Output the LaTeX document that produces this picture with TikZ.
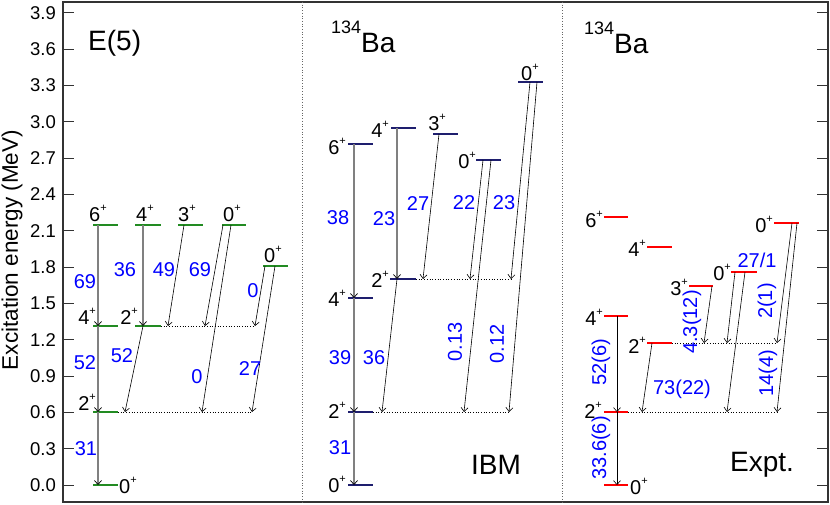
\documentclass[tikz,border=0pt]{standalone}
\usepackage{fontspec}
\setmainfont{Liberation Sans}
\usetikzlibrary{arrows.meta}
\definecolor{lvlgreen}{RGB}{34,139,34}
\definecolor{lvlnavy}{RGB}{30,30,110}
\definecolor{lvlred}{RGB}{255,0,0}
\definecolor{lblblue}{RGB}{0,0,255}
\newcommand\pl{\raisebox{0.5em}{\fontsize{11}{11}\selectfont +}}
\newcommand\isoBa{\raisebox{19pt}{\fontsize{18}{18}\selectfont 134}Ba}
\begin{document}
\begin{tikzpicture}[x=1pt,y=-1pt,
  frame/.style={draw=black!80, line width=1.1pt},
  axtick/.style={draw=black!80, line width=1pt},
  ticklbl/.style={anchor=east, font=\fontsize{18.5}{18.5}\selectfont, inner sep=0pt},
  spin/.style={font=\fontsize{20}{20}\selectfont, inner sep=0pt},
  bluelbl/.style={text=lblblue, font=\fontsize{20}{20}\selectfont, inner sep=0pt},
  ttl/.style={font=\fontsize{28}{28}\selectfont, inner sep=0pt},
  lvlE/.style={draw=lvlgreen, line width=2.2pt},
  lvlI/.style={draw=lvlnavy, line width=2.2pt},
  lvlX/.style={draw=lvlred, line width=2.2pt},
  vtr/.style={draw=black!50, line width=1.3pt, -{Straight Barb[length=4pt,width=7pt,line width=0.7pt,black]}},
  str/.style={draw=black, line width=0.6pt, -{Straight Barb[length=4pt,width=7pt]}},
  feed/.style={draw=black, dotted, line width=0.7pt},
  divider/.style={draw=black!60, dotted, line width=0.7pt}]
\useasboundingbox (0,0) rectangle (830,504);
\fill[white] (0,0) rectangle (830,504);

% frame, dividers, ticks
\draw[frame] (63,2) rectangle (828,502);
\draw[divider] (302,2) -- (302,502);
\draw[divider] (562,2) -- (562,502);
\foreach \k/\lab in {0/0.0,1/0.3,2/0.6,3/0.9,4/1.2,5/1.5,6/1.8,7/2.1,8/2.4,9/2.7,10/3.0,11/3.3,12/3.6,13/3.9}{
  \pgfmathsetmacro\yy{485-36.31*\k}
  \draw[axtick] (63,\yy) -- (74,\yy);
  \draw[axtick] (817,\yy) -- (828,\yy);
  \node[ticklbl] (t\k) at (56,\yy) {\lab};
}
\node[rotate=90, font=\fontsize{22.5}{22.5}\selectfont, inner sep=0pt] (ytitle) at (12,250) {Excitation energy (MeV)};

% ================= E(5) panel =================
\node[ttl, anchor=base west] (ttlE) at (88,50) {E(5)};
\draw[lvlE] (93,485) -- (118,485);
\draw[lvlE] (93,412) -- (118,412);
\draw[lvlE] (93,326) -- (118,326);
\draw[lvlE] (135,326) -- (161,326);
\draw[lvlE] (93,225) -- (118,225);
\draw[lvlE] (135,225) -- (161,225);
\draw[lvlE] (178,225) -- (203,225);
\draw[lvlE] (222,225) -- (246,225);
\draw[lvlE] (263,266) -- (288,266);

\node[spin, anchor=base west] (sE0) at (119,493) {0\pl};
\node[spin, anchor=base east] (sE2) at (96,410) {2\pl};
\node[spin, anchor=base east] (sE4) at (96,324) {4\pl};
\node[spin, anchor=base east] (sE2b) at (138,324) {2\pl};
\node[spin, anchor=base west] (sE6) at (89,221) {6\pl};
\node[spin, anchor=base west] (sE4b) at (136,221) {4\pl};
\node[spin, anchor=base west] (sE3) at (178,221) {3\pl};
\node[spin, anchor=base west] (sE0b) at (223,221) {0\pl};
\node[spin, anchor=base west] (sE0c) at (264,262) {0\pl};

\coordinate (ea1) at (98,225); \coordinate (ea2) at (98,326);
\coordinate (ea3) at (98,412); \coordinate (ea4) at (98,485);
\coordinate (eb1) at (143,225); \coordinate (eb2) at (143,326);
\coordinate (eb3) at (125,412);
\coordinate (ec1) at (184,225); \coordinate (ec2) at (168,326);
\coordinate (ed1) at (223,225); \coordinate (ed2) at (205,326);
\coordinate (ee1) at (231,225); \coordinate (ee2) at (202,412);
\coordinate (ef1) at (265,266); \coordinate (ef2) at (255,326);
\coordinate (eg1) at (275,266); \coordinate (eg2) at (252,412);
\coordinate (efd1) at (161,326); \coordinate (efd2) at (118,412);

\draw[feed] (efd1) -- (ef2);
\draw[feed] (efd2) -- (eg2);
\draw[vtr] (ea1) -- (ea2);
\draw[vtr] (ea2) -- (ea3);
\draw[vtr] (ea3) -- (ea4);
\draw[vtr] (eb1) -- (eb2);
\draw[str] (eb2) -- (eb3);
\draw[str] (ec1) -- (ec2);
\draw[str] (ed1) -- (ed2);
\draw[str] (ee1) -- (ee2);
\draw[str] (ef1) -- (ef2);
\draw[str] (eg1) -- (eg2);

\node[bluelbl] (bE1) at (85,282) {69};
\node[bluelbl] (bE2) at (85,363) {52};
\node[bluelbl] (bE3) at (86,449) {31};
\node[bluelbl] (bE4) at (125,270) {36};
\node[bluelbl] (bE5) at (122,356) {52};
\node[bluelbl] (bE6) at (164,270) {49};
\node[bluelbl] (bE7) at (200,270) {69};
\node[bluelbl] (bE8) at (197,377) {0};
\node[bluelbl] (bE9) at (253,291) {0};
\node[bluelbl] (bE10) at (250,369) {27};

% ================= IBM panel =================
\node[ttl, anchor=base west] (ttlI) at (331,52) {\isoBa};
\node[ttl] (ibm) at (496,465) {IBM};
\draw[lvlI] (348,485) -- (373,485);
\draw[lvlI] (348,412) -- (373,412);
\draw[lvlI] (348,298) -- (373,298);
\draw[lvlI] (390,279) -- (416,279);
\draw[lvlI] (348,144) -- (373,144);
\draw[lvlI] (391,128) -- (416,128);
\draw[lvlI] (433,134) -- (458,134);
\draw[lvlI] (476,160) -- (501,160);
\draw[lvlI] (518,82) -- (543,82);

\node[spin, anchor=base east] (sI0) at (346,492) {0\pl};
\node[spin, anchor=base east] (sI2) at (346,418) {2\pl};
\node[spin, anchor=base east] (sI4) at (346,306) {4\pl};
\node[spin, anchor=base east] (sI2b) at (389,287) {2\pl};
\node[spin, anchor=base east] (sI6) at (346,154) {6\pl};
\node[spin, anchor=base east] (sI4b) at (389,137) {4\pl};
\node[spin, anchor=base east] (sI3) at (446,130) {3\pl};
\node[spin, anchor=base east] (sI0b) at (476,168) {0\pl};
\node[spin, anchor=base west] (sI0c) at (521,80) {0\pl};

\coordinate (ia1) at (354,144); \coordinate (ia2) at (354,298);
\coordinate (ia3) at (354,412); \coordinate (ia4) at (354,485);
\coordinate (ib1) at (397,128); \coordinate (ib2) at (397,279);
\coordinate (ib3) at (382,412);
\coordinate (ic1) at (439,134); \coordinate (ic2) at (423,279);
\coordinate (id1) at (483,160); \coordinate (id2) at (470,279);
\coordinate (ie1) at (491,160); \coordinate (ie2) at (464,412);
\coordinate (if1) at (530,82); \coordinate (if2) at (511,279);
\coordinate (ig1) at (537,82); \coordinate (ig2) at (509,412);
\coordinate (ifd1) at (416,279); \coordinate (ifd2) at (373,412);

\draw[feed] (ifd1) -- (if2);
\draw[feed] (ifd2) -- (ig2);
\draw[vtr] (ia1) -- (ia2);
\draw[vtr] (ia2) -- (ia3);
\draw[vtr] (ia3) -- (ia4);
\draw[vtr] (ib1) -- (ib2);
\draw[str] (ib2) -- (ib3);
\draw[str] (ic1) -- (ic2);
\draw[str] (id1) -- (id2);
\draw[str] (ie1) -- (ie2);
\draw[str] (if1) -- (if2);
\draw[str] (ig1) -- (ig2);

\node[bluelbl] (bI1) at (338,218) {38};
\node[bluelbl] (bI2) at (384,219) {23};
\node[bluelbl] (bI3) at (418,204) {27};
\node[bluelbl] (bI4) at (464,203) {22};
\node[bluelbl] (bI5) at (504,203) {23};
\node[bluelbl] (bI6) at (340,358) {39};
\node[bluelbl] (bI7) at (374,358) {36};
\node[bluelbl] (bI8) at (340,448) {31};
\node[bluelbl, rotate=90] (bI9) at (455,342) {0.13};
\node[bluelbl, rotate=90] (bI10) at (497,344) {0.12};

% ================= Expt panel =================
\node[ttl, anchor=base west] (ttlX) at (584,53) {\isoBa};
\node[ttl] (expt) at (762,465) {Expt.};
\draw[lvlX] (604,485) -- (628,485);
\draw[lvlX] (604,412) -- (628,412);
\draw[lvlX] (604,316) -- (628,316);
\draw[lvlX] (647,343) -- (672,343);
\draw[lvlX] (689,286) -- (713,286);
\draw[lvlX] (731,272) -- (757,272);
\draw[lvlX] (774,223) -- (799,223);
\draw[lvlX] (604,217) -- (628,217);
\draw[lvlX] (647,247) -- (672,247);

\node[spin, anchor=base west] (sX0) at (630,494) {0\pl};
\node[spin, anchor=base east] (sX2) at (602,418) {2\pl};
\node[spin, anchor=base east] (sX4) at (603,325) {4\pl};
\node[spin, anchor=base east] (sX2b) at (646,353) {2\pl};
\node[spin, anchor=base east] (sX3) at (688,295) {3\pl};
\node[spin, anchor=base east] (sX0b) at (731,280) {0\pl};
\node[spin, anchor=base east] (sX0c) at (773,232) {0\pl};
\node[spin, anchor=base east] (sX6) at (603,227) {6\pl};
\node[spin, anchor=base east] (sX4b) at (646,256) {4\pl};

\coordinate (xa1) at (617,316); \coordinate (xa2) at (617,412);
\coordinate (xa3) at (617,485);
\coordinate (xb1) at (652,343); \coordinate (xb2) at (642,412);
\coordinate (xc1) at (712,286); \coordinate (xc2) at (704,343);
\coordinate (xd1) at (735,272); \coordinate (xd2) at (727,343);
\coordinate (xe1) at (745,272); \coordinate (xe2) at (727,412);
\coordinate (xf1) at (792,223); \coordinate (xf2) at (777,343);
\coordinate (xg1) at (797,223); \coordinate (xg2) at (777,412);
\coordinate (xfd1) at (672,343); \coordinate (xfd2) at (628,412);

\draw[feed] (xfd1) -- (xf2);
\draw[feed] (xfd2) -- (xg2);
\draw[str] (xa1) -- (xa2);
\draw[str] (xa2) -- (xa3);
\draw[str] (xb1) -- (xb2);
\draw[str] (xc1) -- (xc2);
\draw[str] (xd1) -- (xd2);
\draw[str] (xe1) -- (xe2);
\draw[str] (xf1) -- (xf2);
\draw[str] (xg1) -- (xg2);

\node[bluelbl, rotate=90] (bX1) at (601,362) {52(6)};
\node[bluelbl, rotate=90] (bX2) at (601,448) {33.6(6)};
\node[bluelbl] (bX3) at (682,389) {73(22)};
\node[bluelbl, rotate=90] (bX4) at (692,322) {4.3(12)};
\node[bluelbl] (bX5) at (757,260) {27/1};
\node[bluelbl, rotate=90] (bX6) at (767,301) {2(1)};
\node[bluelbl, rotate=90] (bX7) at (768,373) {14(4)};
\end{tikzpicture}
\end{document}
